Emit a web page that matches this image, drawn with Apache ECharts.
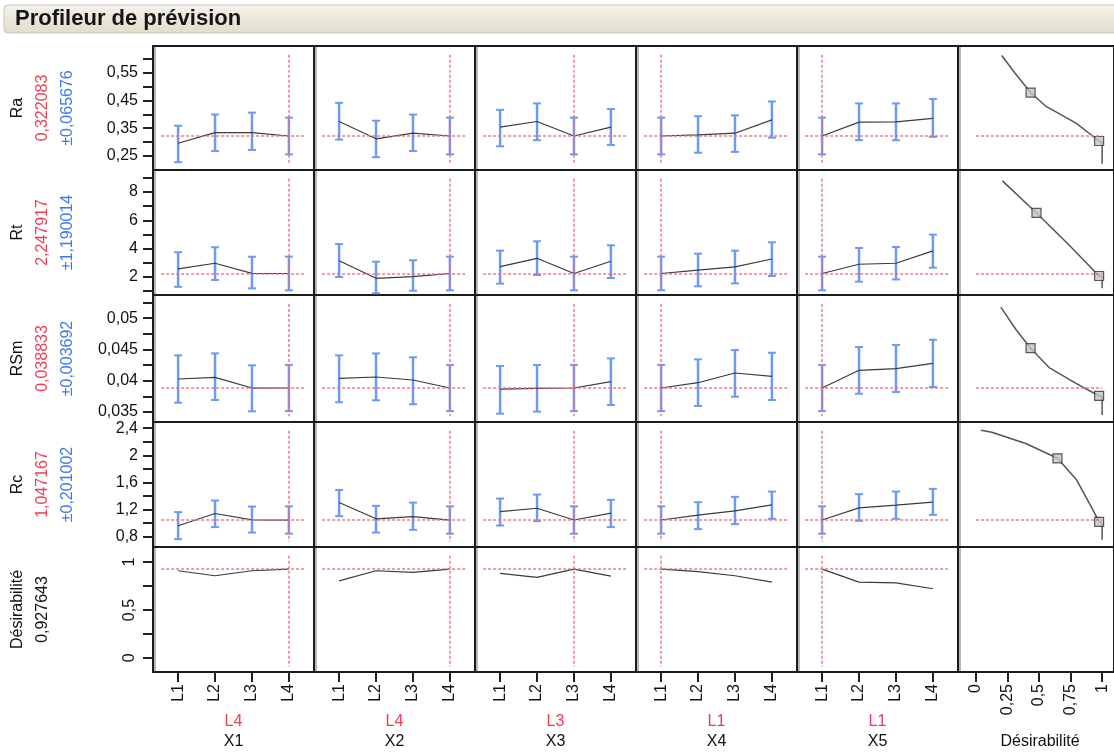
<!DOCTYPE html>
<html><head><meta charset="utf-8">
<script src="https://cdn.jsdelivr.net/npm/echarts@6/dist/echarts.min.js"></script>
<style>html,body{margin:0;padding:0;background:#fff}#c{width:1114px;height:754px}</style>
</head><body><div id="c"></div><script>
// ---------- data ----------
const levels = ['L1','L2','L3','L4'];
const factors = ['X1','X2','X3','X4','X5'];
const selectedLevel = ['L4','L4','L3','L1','L1'];
const responses = ['Ra','Rt','RSm','Rc','Désirabilité'];
const currentValue = [0.322083, 2.247917, 0.038833, 1.047167, 0.927643];
const currentText = ['0,322083','2,247917','0,038833','1,047167','0,927643'];
const halfWidthText = ['±0,065676','±1,190014','±0,003692','±0,201002',''];

// predicted means per factor (rows X1..X5, columns L1..L4)
const raMean = [[0.296,0.334,0.334,0.322],[0.374,0.312,0.332,0.322],[0.354,0.374,0.322,0.354],[0.322,0.326,0.332,0.380],[0.322,0.372,0.373,0.385]];
const raLow  = [[0.228,0.268,0.272,0.256],[0.309,0.246,0.268,0.256],[0.285,0.307,0.256,0.290],[0.256,0.262,0.265,0.316],[0.256,0.307,0.307,0.319]];
const raHigh = [[0.359,0.399,0.406,0.388],[0.441,0.377,0.399,0.388],[0.416,0.439,0.388,0.419],[0.388,0.393,0.396,0.446],[0.388,0.439,0.439,0.455]];

const rtMean = [[2.57,2.97,2.26,2.248],[3.15,1.91,2.02,2.248],[2.73,3.32,2.248,3.11],[2.248,2.49,2.71,3.27],[2.248,2.90,2.97,3.84]];
const rtLow  = [[1.31,1.79,1.20,1.058],[2.00,0.85,1.03,1.058],[1.53,2.14,1.058,1.93],[1.058,1.34,1.55,2.07],[1.058,1.67,1.83,2.66]];
const rtHigh = [[3.75,4.10,3.43,3.438],[4.33,3.08,3.18,3.438],[3.86,4.52,3.438,4.24],[3.438,3.65,3.86,4.45],[3.438,4.05,4.12,4.99]];

const rsmMean = [[0.04027,0.04054,0.03883,0.038833],[0.04038,0.04059,0.04011,0.038833],[0.03867,0.03878,0.038833,0.03984],[0.038833,0.03968,0.04123,0.0407],[0.038833,0.04166,0.04192,0.04278]];
const rsmLow  = [[0.03649,0.03692,0.03511,0.035141],[0.03655,0.03687,0.03623,0.035141],[0.03473,0.03505,0.035141,0.03612],[0.035141,0.03596,0.03744,0.03692],[0.035141,0.03792,0.0382,0.03899]];
const rsmHigh = [[0.04405,0.04437,0.04246,0.042525],[0.04405,0.04437,0.04374,0.042525],[0.04235,0.04251,0.042525,0.04357],[0.042525,0.04342,0.0449,0.04447],[0.042525,0.04538,0.0457,0.04655]];

const rcMean = [[0.962,1.143,1.05,1.047],[1.304,1.065,1.098,1.047],[1.172,1.22,1.047,1.148],[1.047,1.119,1.182,1.27],[1.047,1.226,1.266,1.31]];
const rcLow  = [[0.766,0.943,0.863,0.846],[1.104,0.863,0.903,0.846],[0.966,1.03,0.846,0.943],[0.846,0.913,0.987,1.065],[0.846,1.035,1.065,1.123]];
const rcHigh = [[1.163,1.334,1.245,1.248],[1.49,1.256,1.304,1.248],[1.363,1.422,1.248,1.344],[1.248,1.31,1.388,1.466],[1.248,1.428,1.466,1.506]];

const desMean = [[0.910,0.858,0.910,0.9276],[0.805,0.910,0.893,0.9276],[0.882,0.840,0.9276,0.854],[0.9276,0.900,0.858,0.791],[0.9276,0.791,0.784,0.722]];

// desirability functions: [desirability, response]
const raDesirCurve  = [[0.205,0.611],[0.307,0.549],[0.433,0.478],[0.556,0.428],[0.793,0.368],[0.976,0.304],[1.0,0.298],[1.0,0.222]];
const rtDesirCurve  = [[0.21,8.78],[0.48,6.52],[0.73,4.33],[0.976,2.07],[1.0,2.0],[1.0,1.2]];
const rsmDesirCurve = [[0.197,0.05176],[0.32,0.0481],[0.433,0.0452],[0.58,0.0421],[0.793,0.03958],[0.976,0.03756],[1.0,0.0375],[1.0,0.0345]];
const rcDesirCurve  = [[0.04,2.37],[0.126,2.34],[0.40,2.17],[0.646,1.956],[0.795,1.644],[0.898,1.295],[0.976,1.02],[1.0,1.0],[1.0,0.756]];
const raHandles  = [[0.433,0.478],[0.976,0.304]];
const rtHandles  = [[0.48,6.52],[0.976,2.07]];
const rsmHandles = [[0.433,0.0452],[0.976,0.03756]];
const rcHandles  = [[0.646,1.956],[0.976,1.02]];

// axes
const yMin = [0.2, 0.73, 0.0334, 0.65, -0.147];
const yMax = [0.645, 9.55, 0.0537, 2.49, 1.158];
const yTicks = [
  [0.25,0.3,0.35,0.4,0.45,0.5,0.55,0.6],
  [1,2,3,4,5,6,7,8,9],
  [0.035,0.0375,0.04,0.0425,0.045,0.0475,0.05,0.0525],
  [0.8,1.0,1.2,1.4,1.6,1.8,2.0,2.2,2.4],
  [0,0.25,0.5,0.75,1]
];
const yTickLabels = [
  [0.25,0.35,0.45,0.55],
  [2,4,6,8],
  [0.035,0.04,0.045,0.05],
  [0.8,1.2,1.6,2,2.4],
  [0,0.5,1]
];
const desTicks = [0,0.25,0.5,0.75,1];
const desTickLabels = ['0','0,25','0,5','0,75','1'];

// ---------- layout ----------
const COLS = [153,314,475,636,797,958];
const COL_W = [161,161,161,161,161,160];
const ROWS = [46,170,295,422,547];
const ROW_H = [124,125,127,125,125];
const XMIN = 0.32, XMAX = 4.68;
const DMIN = -0.142, DMAX = 1.094;
const FONT = '"Liberation Sans", Arial, sans-serif';
const RED = '#ef3e52';
const BLUE = '#3f78ee';
const BAR = '#6d9af3';
const REDLINE = '#f06a7a';

const meanRows = [raMean, rtMean, rsmMean, rcMean, desMean];
const lowRows = [raLow, rtLow, rsmLow, rcLow, null];
const highRows = [raHigh, rtHigh, rsmHigh, rcHigh, null];
const desirCurves = [raDesirCurve, rtDesirCurve, rsmDesirCurve, rcDesirCurve];
const desirHandles = [raHandles, rtHandles, rsmHandles, rcHandles];

const fmt = v => String(+v.toPrecision(6)).replace('.', ',');

const grids = [], xAxes = [], yAxes = [], series = [], graphics = [];

for (let r = 0; r < 5; r++) {
  for (let c = 0; c < 6; c++) {
    const idx = r * 6 + c;
    grids.push({left: COLS[c], top: ROWS[r], width: COL_W[c], height: ROW_H[r],
      show: true, borderColor: '#1c1c1c', borderWidth: 2, backgroundColor: '#fff'});
    const isDes = c === 5;
    const bottom = r === 4;
    xAxes.push({
      type: 'value', gridIndex: idx, position: 'bottom',
      min: isDes ? DMIN : XMIN, max: isDes ? DMAX : XMAX,
      axisLine: {show: false, onZero: false},
      splitLine: {show: false},
      axisTick: {show: bottom, length: 10, lineStyle: {color: '#222', width: 2},
        customValues: isDes ? desTicks : levels.map((l, i) => i + 1)},
      axisLabel: {show: bottom, rotate: 90, margin: 12, fontSize: 16, fontFamily: FONT, color: '#111',
        customValues: isDes ? desTicks : levels.map((l, i) => i + 1),
        formatter: v => isDes ? desTickLabels[desTicks.indexOf(v)] : levels[Math.round(v) - 1]}
    });
    const showY = c === 0;
    yAxes.push({
      type: 'value', gridIndex: idx, min: yMin[r], max: yMax[r], position: 'left',
      axisLine: {show: false, onZero: false},
      splitLine: {show: false},
      axisTick: {show: showY, length: 10, lineStyle: {color: '#222', width: 2}, customValues: yTicks[r]},
      axisLabel: {show: showY, margin: 15, fontSize: 16, fontFamily: FONT, color: '#111',
        rotate: r === 4 ? 90 : 0,
        customValues: yTickLabels[r], formatter: v => fmt(v)}
    });
    // shadow strip inside the left border
    graphics.push({type: 'rect', z: 50, silent: true,
      shape: {x: COLS[c] + 1, y: ROWS[r] + 1, width: 2, height: ROW_H[r] - 2},
      style: {fill: '#b8b8b8'}});

    const span = yMax[r] - yMin[r];
    if (!isDes) {
      const sel = levels.indexOf(selectedLevel[c]) + 1;
      series.push({type: 'line', xAxisIndex: idx, yAxisIndex: idx, data: [], z: 1, silent: true,
        markLine: {symbol: 'none', silent: true, animation: false, label: {show: false},
          lineStyle: {color: REDLINE, width: 1.5, type: [3, 2], opacity: 0.9},
          data: [
            [{coord: [XMIN + 0.22, currentValue[r]]}, {coord: [XMAX - 0.22, currentValue[r]]}],
            [{coord: [sel, yMax[r] - 0.07 * span]}, {coord: [sel, yMin[r] + 0.045 * span]}]
          ]}});
      if (lowRows[r]) {
        series.push({type: 'custom', xAxisIndex: idx, yAxisIndex: idx, z: 3, silent: true,
          data: levels.map((l, i) => [i + 1, lowRows[r][c][i], highRows[r][c][i]]),
          renderItem: (params, api) => {
            const x = api.value(0);
            const p1 = api.coord([x, api.value(2)]);
            const p2 = api.coord([x, api.value(1)]);
            const w = 4;
            const st = {stroke: BAR, lineWidth: 2.5};
            const sc = {stroke: BAR, lineWidth: 2};
            return {type: 'group', children: [
              {type: 'line', shape: {x1: p1[0], y1: p1[1], x2: p2[0], y2: p2[1]}, style: st},
              {type: 'line', shape: {x1: p1[0] - w, y1: p1[1], x2: p1[0] + w, y2: p1[1]}, style: sc},
              {type: 'line', shape: {x1: p2[0] - w, y1: p2[1], x2: p2[0] + w, y2: p2[1]}, style: sc}
            ]};
          }});
      }
      series.push({type: 'line', xAxisIndex: idx, yAxisIndex: idx, z: 4, silent: true,
        symbol: 'none', lineStyle: {color: '#3a3a3a', width: 1.2},
        data: levels.map((l, i) => [i + 1, meanRows[r][c][i]])});
    } else if (r < 4) {
      series.push({type: 'line', xAxisIndex: idx, yAxisIndex: idx, data: [], z: 1, silent: true,
        markLine: {symbol: 'none', silent: true, animation: false, label: {show: false},
          lineStyle: {color: REDLINE, width: 1.5, type: [3, 2], opacity: 0.9},
          data: [[{coord: [0, currentValue[r]]}, {coord: [1, currentValue[r]]}]]}});
      series.push({type: 'line', xAxisIndex: idx, yAxisIndex: idx, z: 3, silent: true,
        symbol: 'none', lineStyle: {color: '#555', width: 1.5}, data: desirCurves[r]});
      series.push({type: 'scatter', xAxisIndex: idx, yAxisIndex: idx, z: 4, silent: true,
        symbol: 'rect', symbolSize: 9,
        itemStyle: {color: '#c4c4c4', borderColor: '#333', borderWidth: 1.2}, data: desirHandles[r]});
    }
  }
}

// row labels (rotated)
for (let r = 0; r < 5; r++) {
  const cy = ROWS[r] + ROW_H[r] / 2;
  graphics.push({type: 'text', x: 18, y: cy, rotation: Math.PI / 2,
    style: {text: responses[r], font: '16px ' + FONT, fill: '#111', align: 'center', verticalAlign: 'middle'}});
  graphics.push({type: 'text', x: 43, y: cy, rotation: Math.PI / 2,
    style: {text: currentText[r], font: '16px ' + FONT, fill: r === 4 ? '#111' : RED, align: 'center', verticalAlign: 'middle'}});
  if (halfWidthText[r]) graphics.push({type: 'text', x: 68, y: cy, rotation: Math.PI / 2,
    style: {text: halfWidthText[r], font: '16px ' + FONT, fill: BLUE, align: 'center', verticalAlign: 'middle'}});
}
// factor labels
for (let c = 0; c < 5; c++) {
  const cx = COLS[c] + COL_W[c] / 2;
  graphics.push({type: 'text', x: cx, y: 722, style: {text: selectedLevel[c], font: '16px ' + FONT, fill: RED, align: 'center', verticalAlign: 'middle'}});
  graphics.push({type: 'text', x: cx, y: 742, style: {text: factors[c], font: '16px ' + FONT, fill: '#111', align: 'center', verticalAlign: 'middle'}});
}
graphics.push({type: 'text', x: 1040, y: 742, style: {text: 'Désirabilité', font: '16px ' + FONT, fill: '#111', align: 'center', verticalAlign: 'middle'}});

// title bar
graphics.push({type: 'rect', z: 0, shape: {x: 4, y: 5, width: 1130, height: 28, r: 4},
  style: {fill: new echarts.graphic.LinearGradient(0, 0, 0, 1, [{offset: 0, color: '#f4f2ea'}, {offset: 1, color: '#e1ddcc'}]),
    stroke: '#c9c4b2', lineWidth: 1}});
graphics.push({type: 'text', x: 15, y: 19, style: {text: 'Profileur de prévision', font: 'bold 22px ' + FONT, fill: '#151515', verticalAlign: 'middle'}});

const chart = echarts.init(document.getElementById('c'), null, {renderer: 'canvas'});
chart.setOption({
  animation: false,
  backgroundColor: '#fff',
  grid: grids, xAxis: xAxes, yAxis: yAxes, series: series, graphic: graphics
});
</script></body></html>
